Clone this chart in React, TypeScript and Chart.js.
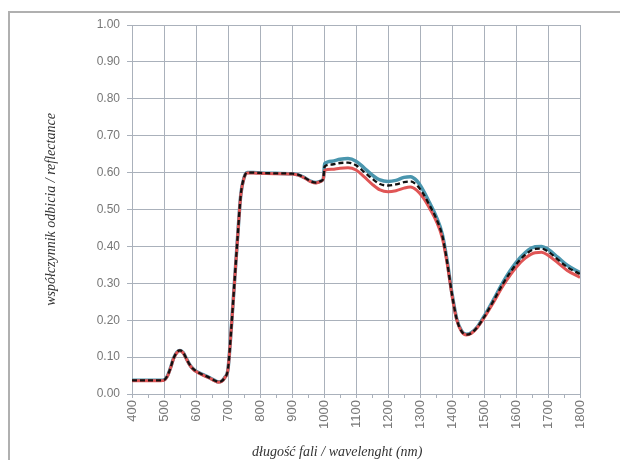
import React, { useEffect, useRef } from "react";
import { Chart, registerables } from "chart.js";

Chart.register(...registerables);

// wavelength (nm)
const wavelengths = [
  400, 450, 490, 500, 510, 520, 530, 540, 550, 560, 570, 580, 590, 600, 620, 640, 660, 670, 680, 690,
  700, 710, 720, 730, 740, 750, 760, 780, 800, 850, 900, 920, 940, 960, 975, 990, 998,
  1002, 1025, 1050, 1075, 1100, 1125, 1150, 1175, 1200, 1225, 1250, 1270, 1290, 1310, 1330, 1350,
  1370, 1385, 1400, 1415, 1430, 1445, 1460, 1480, 1500, 1530, 1560, 1600, 1630, 1660, 1680, 1700,
  1730, 1760, 1800,
];

// upper (blue) series
const reflectanceBlue = [
  0.037, 0.037, 0.037, 0.038, 0.048, 0.070, 0.097, 0.113, 0.118, 0.112, 0.096, 0.080, 0.069, 0.062, 0.053, 0.045, 0.036, 0.033, 0.035, 0.045,
  0.068, 0.175, 0.300, 0.425, 0.540, 0.586, 0.600, 0.600, 0.599, 0.598, 0.597, 0.594, 0.586, 0.576, 0.573, 0.577, 0.584,
  0.624, 0.631, 0.636, 0.638, 0.631, 0.613, 0.594, 0.580, 0.576, 0.579, 0.587, 0.589, 0.578, 0.552, 0.518, 0.482,
  0.432, 0.360, 0.272, 0.203, 0.171, 0.162, 0.166, 0.183, 0.210, 0.256, 0.304, 0.356, 0.384, 0.399, 0.400, 0.392,
  0.371, 0.349, 0.329,
];

// middle (black dashed) series
const reflectanceMean = [
  0.037, 0.037, 0.037, 0.038, 0.048, 0.070, 0.097, 0.113, 0.118, 0.112, 0.096, 0.080, 0.069, 0.062, 0.053, 0.045, 0.036, 0.033, 0.035, 0.045,
  0.068, 0.175, 0.300, 0.425, 0.540, 0.586, 0.600, 0.600, 0.599, 0.598, 0.597, 0.594, 0.586, 0.576, 0.573, 0.577, 0.584,
  0.617, 0.622, 0.626, 0.627, 0.620, 0.602, 0.584, 0.569, 0.565, 0.568, 0.574, 0.576, 0.566, 0.543, 0.511, 0.477,
  0.428, 0.357, 0.270, 0.202, 0.170, 0.161, 0.165, 0.182, 0.208, 0.253, 0.300, 0.351, 0.378, 0.393, 0.394, 0.386,
  0.365, 0.344, 0.325,
];

// lower (red) series
const reflectanceRed = [
  0.036, 0.036, 0.036, 0.037, 0.047, 0.069, 0.096, 0.112, 0.117, 0.111, 0.095, 0.079, 0.068, 0.061, 0.052, 0.044, 0.035, 0.032, 0.034, 0.044,
  0.067, 0.174, 0.299, 0.424, 0.539, 0.585, 0.599, 0.599, 0.598, 0.597, 0.596, 0.593, 0.585, 0.575, 0.572, 0.576, 0.583,
  0.606, 0.609, 0.612, 0.613, 0.607, 0.589, 0.569, 0.553, 0.548, 0.551, 0.558, 0.561, 0.552, 0.532, 0.503, 0.470,
  0.422, 0.353, 0.267, 0.200, 0.169, 0.160, 0.164, 0.181, 0.206, 0.249, 0.294, 0.343, 0.369, 0.383, 0.384, 0.376,
  0.356, 0.335, 0.316,
];

const X_TITLE = "długość fali / wavelenght (nm)";
const Y_TITLE = "współczynnik odbicia / reflectance";

const GRID = "#aab1bb";
const Y_TICK_FONT = { family: "'Liberation Sans', Arial, sans-serif", size: 12 };
const X_TICK_FONT = { family: "'Liberation Sans', Arial, sans-serif", size: 13 };
const TITLE_FONT = "'Liberation Serif', 'Times New Roman', serif";

const toPoints = (ys: number[]) => wavelengths.map((x, i) => ({ x, y: ys[i] }));

const xTitlePlugin = {
  id: "xTitlePlugin",
  afterDraw(chart: any) {
    const { ctx, chartArea } = chart;
    ctx.save();
    ctx.font = `italic 14px ${TITLE_FONT}`;
    ctx.fillStyle = "#333333";
    ctx.textAlign = "center";
    ctx.textBaseline = "middle";
    const cx = chartArea.left + (chartArea.right - chartArea.left) * 0.458;
    ctx.fillText(X_TITLE, cx, 444);
    ctx.restore();
  },
};

export default function App() {
  const canvasRef = useRef<HTMLCanvasElement | null>(null);

  useEffect(() => {
    if (!canvasRef.current) return;
    const chart = new Chart(canvasRef.current, {
      type: "line",
      data: {
        datasets: [
          {
            label: "mean",
            data: toPoints(reflectanceMean),
            borderColor: "#111111",
            borderWidth: 2.3,
            borderDash: [5, 3],
            pointRadius: 0,
            cubicInterpolationMode: "monotone",
            fill: false,
          },
          {
            label: "lower",
            data: toPoints(reflectanceRed),
            borderColor: "#e05555",
            borderWidth: 3,
            pointRadius: 0,
            cubicInterpolationMode: "monotone",
            fill: false,
          },
          {
            label: "upper",
            data: toPoints(reflectanceBlue),
            borderColor: "#4a96ae",
            borderWidth: 3.5,
            pointRadius: 0,
            cubicInterpolationMode: "monotone",
            fill: false,
          },
        ],
      },
      options: {
        animation: false,
        responsive: false,
        maintainAspectRatio: false,
        layout: { padding: { top: 17, right: 40, bottom: 0, left: 0 } },
        plugins: {
          legend: { display: false },
          tooltip: { enabled: false },
        },
        scales: {
          x: {
            type: "linear",
            min: 400,
            max: 1800,
            afterFit: (s: any) => {
              s.height = 66;
            },
            ticks: {
              stepSize: 50,
              autoSkip: false,
              maxRotation: 90,
              minRotation: 90,
              padding: 2,
              color: "#777777",
              font: X_TICK_FONT,
              callback: (v: any) => (Number(v) % 100 === 0 ? String(v) : ""),
            },
            grid: {
              color: (c: any) => (c.tick && c.tick.value % 100 === 0 ? GRID : "rgba(0,0,0,0)"),
              tickColor: GRID,
              tickLength: 4,
              lineWidth: 1,
            },
            border: { color: GRID, width: 1 },
          },
          y: {
            min: 0,
            max: 1,
            afterFit: (s: any) => {
              s.width = 124;
            },
            ticks: {
              stepSize: 0.1,
              padding: 7,
              color: "#777777",
              font: Y_TICK_FONT,
              callback: (v: any) => Number(v).toFixed(2),
            },
            grid: { color: GRID, tickColor: GRID, tickLength: 5, lineWidth: 1 },
            border: { color: GRID, width: 1 },
            title: {
              display: true,
              text: Y_TITLE,
              color: "#333333",
              font: { family: TITLE_FONT, size: 14, style: "italic" },
              padding: { top: 35, bottom: 0 },
            },
          },
        },
      },
      plugins: [xTitlePlugin],
    } as any);
    return () => chart.destroy();
  }, []);

  return (
    <div style={{ position: "relative", width: 612, height: 452 }}>
      <div
        style={{
          position: "absolute",
          left: 0,
          top: 3,
          width: 612,
          height: 449,
          boxSizing: "border-box",
          borderTop: "2px solid #b0b0b0",
          borderLeft: "2px solid #b0b0b0",
        }}
      />
      <canvas
        ref={canvasRef}
        width={612}
        height={452}
        style={{ position: "absolute", left: 0, top: 0, display: "block" }}
      />
    </div>
  );
}
